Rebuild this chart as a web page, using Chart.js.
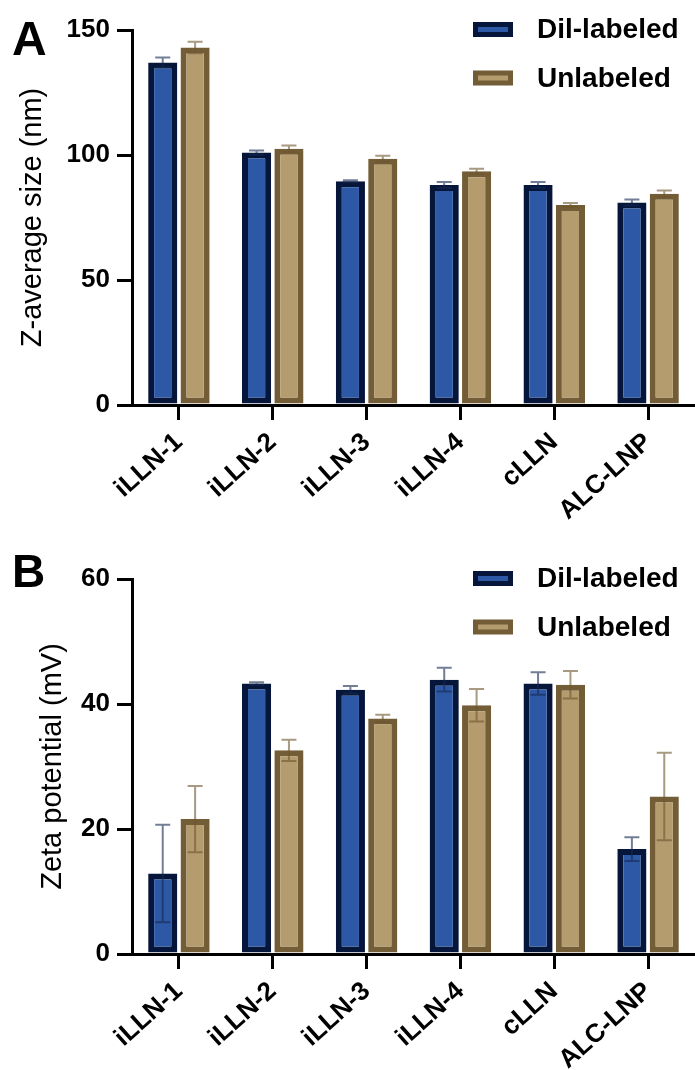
<!DOCTYPE html>
<html><head><meta charset="utf-8">
<script src="https://cdn.jsdelivr.net/npm/chart.js@4.4.1/dist/chart.umd.min.js"></script>
<style>
html,body{margin:0;padding:0;background:#fff;}
#wrap{position:relative;width:695px;height:1070px;overflow:hidden;}
.box{position:absolute;left:0;width:695px;height:535px;}
</style></head><body>
<div id="wrap">
<div class="box" style="top:0"><canvas id="c1" width="695" height="535"></canvas></div>
<div class="box" style="top:535px"><canvas id="c2" width="695" height="535"></canvas></div>
</div>
<script>
// ---- data ----
const categories = ['iLLN-1','iLLN-2','iLLN-3','iLLN-4','cLLN','ALC-LNP'];
const seriesNames = ['Dil-labeled','Unlabeled'];
const sizeDil    = [137, 101, 89.5, 88, 88, 81];
const sizeDilErr = [2.0, 0.8, 0.4, 1.2, 1.2, 1.2];
const sizeUnl    = [143, 102.5, 98.5, 93.5, 80, 84.5];
const sizeUnlErr = [2.3, 1.3, 1.2, 1.0, 0.8, 1.3];
const zetaDil    = [12.9, 43.3, 42.3, 43.9, 43.3, 16.8];
const zetaDilErr = [7.8, 0.2, 0.6, 1.9, 1.8, 1.9];
const zetaUnl    = [21.6, 32.6, 37.7, 39.8, 43.1, 25.2];
const zetaUnlErr = [5.3, 1.7, 0.6, 2.6, 2.2, 7.0];
const sizeTicks = [0, 50, 100, 150];
const zetaTicks = [0, 20, 40, 60];
const yTitles = ['Z-average size (nm)', 'Zeta potential (mV)'];
const panelLetters = ['A', 'B'];

// ---- styles ----
const FONT = "'Liberation Sans', Arial, Helvetica, sans-serif";
const BLUE = {fill:'#2D58A5', border:'#06163A', err:'rgba(20,40,80,0.6)'};
const TAN  = {fill:'#B59C6F', border:'#735D37', err:'rgba(110,85,45,0.6)'};

const errorBars = {
  id: 'errorBars',
  afterDatasetsDraw(chart) {
    const ctx = chart.ctx, ys = chart.scales.y;
    chart.data.datasets.forEach((ds, di) => {
      const meta = chart.getDatasetMeta(di);
      meta.data.forEach((bar, i) => {
        const v = ds.data[i], e = ds.errors[i];
        const yT = ys.getPixelForValue(v + e), yB = ys.getPixelForValue(v - e);
        ctx.save();
        ctx.strokeStyle = ds.errorColor; ctx.lineWidth = 2;
        ctx.beginPath();
        ctx.moveTo(bar.x, yT); ctx.lineTo(bar.x, yB);
        ctx.moveTo(bar.x - 7.5, yT); ctx.lineTo(bar.x + 7.5, yT);
        ctx.moveTo(bar.x - 7.5, yB); ctx.lineTo(bar.x + 7.5, yB);
        ctx.stroke();
        ctx.restore();
      });
    });
  }
};

const customLegend = {
  id: 'customLegend',
  afterDraw(chart, args, opts) {
    const ctx = chart.ctx;
    chart.data.datasets.forEach((ds, i) => {
      const cy = opts.y + i * opts.gap;
      const bx = opts.x, bw = 40, bh = 15, bwd = 5;
      ctx.save();
      ctx.fillStyle = ds.borderColor;
      ctx.fillRect(bx, cy - bh / 2, bw, bh);
      ctx.fillStyle = ds.backgroundColor;
      ctx.fillRect(bx + bwd, cy - bh / 2 + bwd, bw - 2 * bwd, bh - 2 * bwd);
      ctx.fillStyle = '#000';
      ctx.font = 'bold 28px ' + FONT;
      ctx.textBaseline = 'middle';
      ctx.textAlign = 'left';
      ctx.fillText(ds.label, bx + 64, cy + 1);
      ctx.restore();
    });
  }
};

const panelLabel = {
  id: 'panelLabel',
  afterDraw(chart, args, opts) {
    const ctx = chart.ctx;
    ctx.save();
    ctx.fillStyle = '#000';
    ctx.font = 'bold ' + opts.size + 'px ' + FONT;
    ctx.textBaseline = 'alphabetic';
    ctx.fillText(opts.text, opts.x, opts.y);
    ctx.restore();
  }
};

function makeChart(id, dil, dilErr, unl, unlErr, ticks, title, letter, cfg) {
  return new Chart(document.getElementById(id), {
    type: 'bar',
    data: {
      labels: categories,
      datasets: [
        {label: seriesNames[0], data: dil, errors: dilErr, backgroundColor: BLUE.fill, borderColor: BLUE.border,
         errorColor: BLUE.err, borderWidth: 6, borderSkipped: false, categoryPercentage: 0.69, barPercentage: 0.9},
        {label: seriesNames[1], data: unl, errors: unlErr, backgroundColor: TAN.fill, borderColor: TAN.border,
         errorColor: TAN.err, borderWidth: 6, borderSkipped: false, categoryPercentage: 0.69, barPercentage: 0.9}
      ]
    },
    options: {
      responsive: false,
      animation: false,
      devicePixelRatio: 1,
      layout: {padding: {top: cfg.top, left: 0, right: 0, bottom: 0}},
      plugins: {
        legend: {display: false},
        tooltip: {enabled: false},
        customLegend: {x: 473, y: cfg.legY, gap: 48.5},
        panelLabel: {text: letter, x: 12, y: cfg.letterY, size: cfg.letterSize}
      },
      scales: {
        x: {
          z: 1,
          grid: {display: true, drawOnChartArea: false, drawTicks: true, tickLength: 15, lineWidth: 3, color: '#000', offset: false},
          border: {display: true, width: 3, color: '#000'},
          ticks: {color: '#000', font: {family: FONT, size: 26, weight: 'bold'}, minRotation: 42, maxRotation: 42,
                  autoSkip: false, padding: 7},
          afterFit(s) { s.height = 535 - cfg.bottom; s.paddingLeft = 0; s.paddingRight = 0; }
        },
        y: {
          min: ticks[0], max: ticks[ticks.length - 1],
          grid: {display: true, drawOnChartArea: false, drawTicks: true, tickLength: 15, lineWidth: 3, color: '#000'},
          border: {display: true, width: 3, color: '#000'},
          ticks: {stepSize: ticks[1] - ticks[0], color: '#000', padding: 7,
                  font: {family: FONT, size: 26, weight: 'bold'}},
          title: {display: true, text: title, color: '#000', font: {family: FONT, size: 29, weight: 'normal'},
                  padding: {top: cfg.titlePad, bottom: 0}},
          afterFit(s) { s.width = 132; s.paddingTop = 0; s.paddingBottom = 0; }
        }
      }
    },
    plugins: [errorBars, customLegend, panelLabel]
  });
}

makeChart('c1', sizeDil, sizeDilErr, sizeUnl, sizeUnlErr, sizeTicks, yTitles[0], panelLetters[0],
  {top: 30, bottom: 405, legY: 29.5, letterY: 55, letterSize: 48, titlePad: 16});
makeChart('c2', zetaDil, zetaDilErr, zetaUnl, zetaUnlErr, zetaTicks, yTitles[1], panelLetters[1],
  {top: 44, bottom: 419, legY: 43.5, letterY: 52, letterSize: 46, titlePad: 36});
</script>
</body></html>
